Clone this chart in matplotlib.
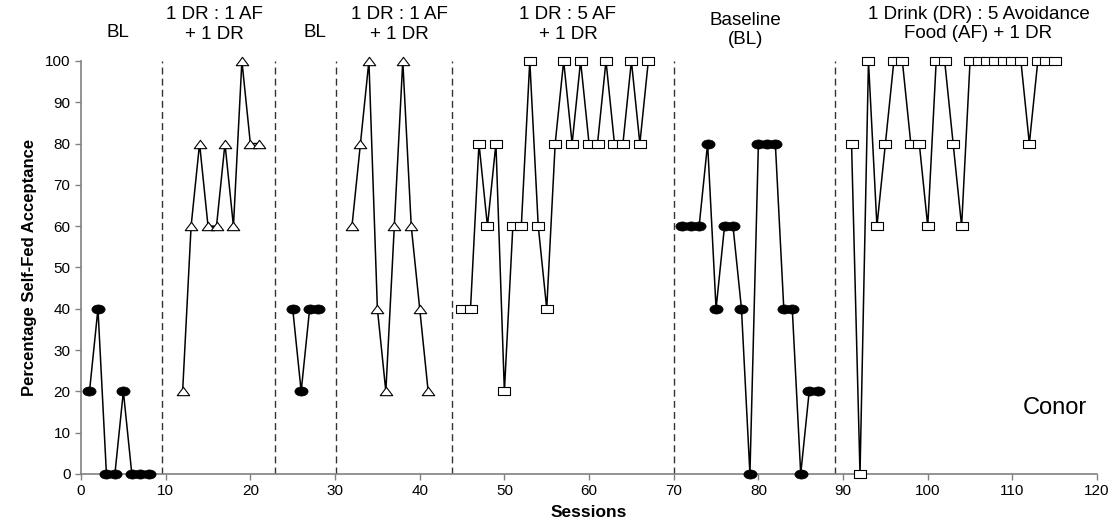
import numpy as np
import matplotlib
matplotlib.use("Agg")
import matplotlib.pyplot as plt
from matplotlib.path import Path
from matplotlib.transforms import Affine2D

plt.rcParams["font.family"] = ["Liberation Sans", "DejaVu Sans"]

# phase data: (sessions, percentage)
bl1_x = [1, 2, 3, 4, 5, 6, 7, 8]
bl1_y = [20, 40, 0, 0, 20, 0, 0, 0]

tx1_x = [12, 13, 14, 15, 16, 17, 18, 19, 20, 21]
tx1_y = [20, 60, 80, 60, 60, 80, 60, 100, 80, 80]

bl2_x = [25, 26, 27, 28]
bl2_y = [40, 20, 40, 40]

tx2_x = [32, 33, 34, 35, 36, 37, 38, 39, 40, 41]
tx2_y = [60, 80, 100, 40, 20, 60, 100, 60, 40, 20]

tx3_x = list(range(45, 68))
tx3_y = [40, 40, 80, 60, 80, 20, 60, 60, 100, 60, 40, 80,
         100, 80, 100, 80, 80, 100, 80, 80, 100, 80, 100]

bl3_x = list(range(71, 88))
bl3_y = [60, 60, 60, 80, 40, 60, 60, 40, 0, 80, 80, 80, 40, 40, 0, 20, 20]

tx4_x = list(range(91, 116))
tx4_y = [80, 0, 100, 60, 80, 100, 100, 80, 80, 60, 100, 100, 80, 60,
         100, 100, 100, 100, 100, 100, 100, 80, 100, 100, 100]

phase_lines = [9.6, 22.9, 30.1, 43.8, 70.0, 89.0]

phase_labels = ["BL", "1 DR : 1 AF\n+ 1 DR", "BL", "1 DR : 1 AF\n+ 1 DR",
                "1 DR : 5 AF\n+ 1 DR", "Baseline\n(BL)",
                "1 Drink (DR) : 5 Avoidance\nFood (AF) + 1 DR"]
label_x = [4.4, 15.7, 27.6, 37.6, 57.5, 78.5, 106.0]
label_y = [1.07, 1.088, 1.07, 1.088, 1.088, 1.075, 1.09]

# custom marker shapes (wider than tall)
ellipse = Path.unit_circle().transformed(Affine2D().scale(1.45, 1.0))
tri = Path([(-1.5, -1), (1.5, -1), (0, 1), (-1.5, -1)],
           [Path.MOVETO, Path.LINETO, Path.LINETO, Path.CLOSEPOLY])
rect = Path([(-1.5, -1), (1.5, -1), (1.5, 1), (-1.5, 1), (-1.5, -1)],
            [Path.MOVETO, Path.LINETO, Path.LINETO, Path.LINETO, Path.CLOSEPOLY])

fig = plt.figure(figsize=(11.13, 5.27), dpi=100)
ax = fig.add_axes([0.0728, 0.1006, 0.9129, 0.7837])

line_kw = dict(color="black", lw=1.1, clip_on=False, zorder=3)
for xs, ys in [(bl1_x, bl1_y), (bl2_x, bl2_y), (bl3_x, bl3_y)]:
    ax.plot(xs, ys, marker=ellipse, ms=9.5, mfc="black", mec="black",
            mew=0.5, **line_kw)
for xs, ys in [(tx1_x, tx1_y), (tx2_x, tx2_y)]:
    ax.plot(xs, ys, marker=tri, ms=9, mfc="white", mec="black",
            mew=0.8, **line_kw)
for xs, ys in [(tx3_x, tx3_y), (tx4_x, tx4_y)]:
    ax.plot(xs, ys, marker=rect, ms=9, mfc="white", mec="black",
            mew=0.8, **line_kw)

for xv in phase_lines:
    ax.plot([xv, xv], [0, 100], color="#333333", lw=1.0,
            linestyle=(0, (5, 3)), zorder=2)

for lx, ly, lab in zip(label_x, label_y, phase_labels):
    ax.text(lx, ly, lab, transform=ax.get_xaxis_transform(),
            ha="center", va="center", fontsize=13.5, linespacing=1.2)

ax.text(115, 16, "Conor", ha="center", va="center", fontsize=17)

ax.set_xlim(0, 120)
ax.set_ylim(0, 100)
ax.set_xticks(np.arange(0, 121, 10))
ax.set_yticks(np.arange(0, 101, 10))
ax.tick_params(labelsize=11, length=4, width=1, color="#808080")
for s in ["top", "right"]:
    ax.spines[s].set_visible(False)
for s in ["left", "bottom"]:
    ax.spines[s].set_color("#808080")
    ax.spines[s].set_linewidth(1.2)

ax.set_xlabel("Sessions", fontsize=12.5, fontweight="bold", labelpad=5)
ax.set_ylabel("Percentage Self-Fed Acceptance", fontsize=12,
              fontweight="bold", labelpad=6)

fig.savefig("out.png", dpi=100)
